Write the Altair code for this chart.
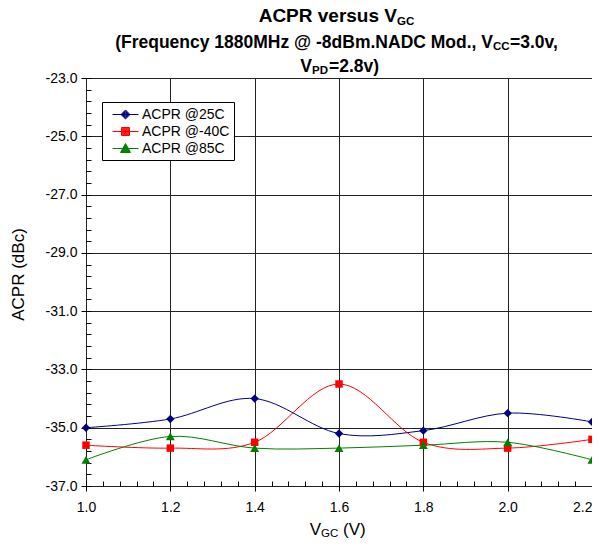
import altair as alt
import pandas as pd

# ---- data ----
vgc = [1.0, 1.2, 1.4, 1.6, 1.8, 2.0, 2.2]
acpr_25c = [-35.0, -34.7, -34.0, -35.2, -35.1, -34.5, -34.8]
acpr_m40c = [-35.6, -35.7, -35.5, -33.5, -35.5, -35.7, -35.4]
acpr_85c = [-36.1, -35.3, -35.7, -35.7, -35.6, -35.5, -36.1]
series_names = ["ACPR @25C", "ACPR @-40C", "ACPR @85C"]
series_colors = ["#000080", "#FF0000", "#008000"]
marker_shapes = ["diamond", "square", "triangle-up"]
marker_sizes = [70, 56, 80]
x_ticks = [1.0, 1.2, 1.4, 1.6, 1.8, 2.0, 2.2]
y_ticks = [-37.0, -35.0, -33.0, -31.0, -29.0, -27.0, -25.0, -23.0]
x_minor = [round(1.0 + 0.04 * i, 2) for i in range(31)]
y_minor = [round(-37.0 + 0.4 * i, 1) for i in range(36)]

rows = []
for name, vals in zip(series_names, [acpr_25c, acpr_m40c, acpr_85c]):
    for v, a in zip(vgc, vals):
        rows.append({"vgc": v, "acpr": a, "series": name})
df = pd.DataFrame(rows)

FONT = "Liberation Sans"
W, H = 506, 408

# ---- legend symbols: a line with a (solid-looking) marker, in px / 8 units ----
U = 8.0


def f(v):
    return f"{v / U:.3f}"


line_part = f"M{f(-13)},0L{f(13)},0"
diamond_path = line_part + "".join(
    f"M0,{f(-r)}L{f(r)},0L0,{f(r)}L{f(-r)},0Z" for r in [4.5, 3.75, 3.0, 2.25, 1.5, 0.75]
)
square_path = line_part + "".join(
    f"M{f(-s)},{f(-s)}L{f(s)},{f(-s)}L{f(s)},{f(s)}L{f(-s)},{f(s)}Z"
    for s in [4.0, 3.25, 2.5, 1.75, 1.0, 0.3]
)
triangle_path = line_part + "".join(
    f"M0,{f(0.5 - 5.5 * k)}L{f(5 * k)},{f(0.5 + 3.5 * k)}L{f(-5 * k)},{f(0.5 + 3.5 * k)}Z"
    for k in [1.0, 0.85, 0.7, 0.55, 0.4, 0.25, 0.1]
)
legend_paths = [diamond_path, square_path, triangle_path]

x_scale = alt.Scale(domain=[1.0, 2.2], nice=False, zero=False)
y_scale = alt.Scale(domain=[-37, -23], nice=False, zero=False)
minus_fix = "replace(datum.label, '\u2212', '-')"

base = alt.Chart(df)

x_main = alt.X("vgc:Q", scale=x_scale,
               axis=alt.Axis(values=x_ticks, format=".1f", title=None, grid=True,
                             gridColor="#222222", gridOpacity=1, gridWidth=1,
                             domain=False, tickColor="black", tickSize=5, tickWidth=1,
                             labelFont=FONT, labelFontSize=14, labelColor="black",
                             labelPadding=9, labelFlush=False, labelOverlap=False,
                             labelAlign={"condition": {"test": "datum.value >= 2.19", "value": "right"},
                                         "value": "center"}))
y_main = alt.Y("acpr:Q", scale=y_scale,
               axis=alt.Axis(values=y_ticks, format=".1f", labelExpr=minus_fix,
                             title="ACPR (dBc)", grid=True,
                             gridColor="#222222", gridOpacity=1, gridWidth=1,
                             domain=False, tickColor="black", tickSize=5, tickWidth=1,
                             labelFont=FONT, labelFontSize=14, labelColor="black",
                             labelPadding=4, labelFlush=False, labelOverlap=False,
                             titleFont=FONT, titleFontSize=17, titleFontWeight="normal",
                             titleColor="black", titleX=-68, titleY=196, titleAngle=270,
                             titleAlign="center", titleBaseline="middle"))

series_layers = []
for i, (name, col) in enumerate(zip(series_names, series_colors)):
    sub = base.transform_filter(alt.datum.series == name)
    if i == 0:
        enc = dict(x=x_main, y=y_main)
    else:
        enc = dict(x=alt.X("vgc:Q", scale=x_scale, axis=None),
                   y=alt.Y("acpr:Q", scale=y_scale, axis=None))
    series_layers.append(sub.mark_line(interpolate="cardinal", strokeWidth=1, color=col).encode(**enc))
for name, col, shp, sz in zip(series_names, series_colors, marker_shapes, marker_sizes):
    sub = base.transform_filter(alt.datum.series == name)
    series_layers.append(
        sub.mark_point(filled=True, opacity=1, shape=shp, size=sz, color=col).encode(
            x=alt.X("vgc:Q", scale=x_scale, axis=None),
            y=alt.Y("acpr:Q", scale=y_scale, axis=None),
        )
    )

leg = alt.Legend(orient="none", legendX=16, legendY=24, title=None, padding=4,
                 strokeColor="black", fillColor="white", labelFont=FONT,
                 labelFontSize=14, labelColor="black", symbolSize=256,
                 symbolStrokeWidth=1, symbolOpacity=1, symbolOffset=11,
                 labelOffset=8, rowPadding=1,
                 labelExpr="datum.label + '\u00a0\u00a0\u00a0\u00a0'")

legend_layer = base.mark_point(filled=False, opacity=0, strokeWidth=1).encode(
    x=alt.X("vgc:Q", scale=x_scale,
            axis=alt.Axis(orient="top", offset=-H, values=x_minor, labels=False,
                          domain=False, grid=False, tickSize=5, tickColor="black",
                          title=None)),
    y=alt.Y("acpr:Q", scale=y_scale,
            axis=alt.Axis(orient="right", offset=-W, values=y_minor, labels=False,
                          domain=False, grid=False, tickSize=5, tickColor="black",
                          title=None)),
    stroke=alt.Stroke("series:N", scale=alt.Scale(domain=series_names, range=series_colors), legend=leg),
    shape=alt.Shape("series:N", scale=alt.Scale(domain=series_names, range=legend_paths), legend=leg),
)


def label(text, x, y, size, weight="normal", align="left"):
    return alt.Chart(alt.Data(values=[{"t": text}])).mark_text(
        align=align, baseline="alphabetic", font=FONT, fontSize=size,
        fontWeight=weight, color="black"
    ).encode(text="t:N", x=alt.value(x), y=alt.value(y))


texts = [
    label("ACPR versus V", 311, -56, 19, "bold", "right"),
    label("GC", 311, -53, 11.5, "bold"),
    label("(Frequency 1880MHz @ -8dBm.NADC Mod., V", 407, -30, 17.5, "bold", "right"),
    label("CC", 407, -28, 11.5, "bold"),
    label("=3.0v,", 424, -30, 17.5, "bold"),
    label("V", 226, -6, 17.5, "bold", "right"),
    label("PD", 226, -4, 11.5, "bold"),
    label("=2.8v)", 243, -6, 17.5, "bold"),
    label("V", 235, 457, 17, "normal", "right"),
    label("GC", 235, 459, 11.5, "normal"),
    label("(V)", 257, 457, 17, "normal"),
]

chart = alt.layer(*series_layers, legend_layer, *texts).resolve_axis(
    x="independent", y="independent"
).properties(
    width=W, height=H,
    autosize=alt.AutoSizeParams(type="none"),
    padding={"left": 78, "top": 70, "right": 0, "bottom": 52},
    background="white",
).configure_view(stroke="black", strokeWidth=1)

chart.save("out.html", embed_options={"renderer": "svg", "actions": False})
